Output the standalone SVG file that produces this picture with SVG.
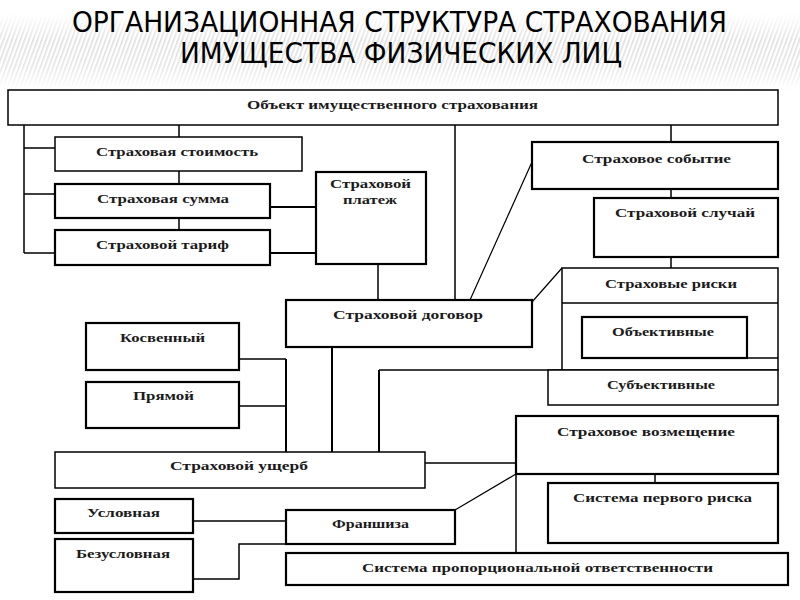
<svg xmlns="http://www.w3.org/2000/svg" width="800" height="600" viewBox="0 0 800 600">
<defs>
<style>
.b{fill:#fff;stroke:#000;stroke-width:1.5}
.k{fill:#fff;stroke:#000;stroke-width:2.2}
.c{fill:none;stroke:#000;stroke-width:1.5}
.t{font-family:"Liberation Serif","DejaVu Serif",serif;font-size:12px;font-weight:bold;fill:#1b1b1b;text-anchor:start}
.h{font-family:"DejaVu Sans Condensed","DejaVu Sans","Liberation Sans Narrow",sans-serif;font-size:28px;fill:#000;text-anchor:start}
</style>
<pattern id="st" width="4" height="8" patternUnits="userSpaceOnUse" patternTransform="rotate(20)">
<rect width="4" height="8" fill="#fff"/>
<rect width="1.6" height="8" fill="#d6d6d6"/>
</pattern>
<linearGradient id="fv" x1="0" y1="0" x2="0" y2="1">
<stop offset="0" stop-color="#fff" stop-opacity="0"/>
<stop offset="0.35" stop-color="#fff" stop-opacity="1"/>
<stop offset="0.7" stop-color="#fff" stop-opacity="0.8"/>
<stop offset="1" stop-color="#fff" stop-opacity="0"/>
</linearGradient>
<mask id="m"><rect x="0" y="14" width="800" height="76" fill="url(#fv)"/></mask>
</defs>
<rect width="800" height="600" fill="#fff"/>
<rect x="0" y="14" width="800" height="76" fill="url(#st)" mask="url(#m)" opacity="0.8"/>
<g id="title">
<text class="h" x="72" y="32" textLength="655" lengthAdjust="spacingAndGlyphs">ОРГАНИЗАЦИОННАЯ СТРУКТУРА СТРАХОВАНИЯ</text>
<text class="h" x="180" y="63" textLength="442" lengthAdjust="spacingAndGlyphs">ИМУЩЕСТВА ФИЗИЧЕСКИХ ЛИЦ</text>
</g>
<g id="connectors">
<path class="c" d="M24 125V253M24 148H55M24 194H55M24 253H55"/>
<path class="c" d="M179 125V137M179 171V184M179 218V230"/>
<path class="c" d="M270 207H316M270 253H316" style="stroke-width:2"/>
<path class="c" d="M378 264V300M455 125V300"/>
<path class="c" d="M671 125V142M671 189V198M671 257V268"/>
<path class="c" d="M532 162L470 300M532 302L562 268" style="stroke-width:1.2"/>
<path class="c" d="M239 359H286M239 406H286"/>
<path class="c" d="M286 359V452M332 347V452M379 452V370" style="stroke-width:2"/>
<path class="c" d="M379 370H562"/>
<path class="c" d="M425 463H516M516 474V553"/>
<path class="c" d="M455 510L516 474" style="stroke-width:1.2"/>
<path class="c" d="M655 474V483"/>
<path class="c" d="M193 521H286M193 579H239V544H286"/>
</g>
<g id="n-obj"><rect class="b" x="8" y="90" width="770" height="35"/><text class="t" x="247" y="109" textLength="291" lengthAdjust="spacingAndGlyphs">Объект имущественного страхования</text></g>
<g id="n-stoim"><rect class="b" x="55" y="137" width="247" height="34"/><text class="t" x="96" y="156" textLength="162" lengthAdjust="spacingAndGlyphs">Страховая стоимость</text></g>
<g id="n-summa"><rect class="k" x="55" y="184" width="215" height="34"/><text class="t" x="97" y="203" textLength="132" lengthAdjust="spacingAndGlyphs">Страховая сумма</text></g>
<g id="n-tarif"><rect class="k" x="55" y="230" width="215" height="35"/><text class="t" x="96" y="249" textLength="133" lengthAdjust="spacingAndGlyphs">Страховой тариф</text></g>
<g id="n-platej"><rect class="k" x="316" y="172" width="110" height="92"/><text class="t" x="330" y="188" textLength="81" lengthAdjust="spacingAndGlyphs">Страховой</text><text class="t" x="343" y="204" textLength="54" lengthAdjust="spacingAndGlyphs">платеж</text></g>
<g id="n-sobyt"><rect class="k" x="532" y="142" width="246" height="47"/><text class="t" x="582" y="163" textLength="149" lengthAdjust="spacingAndGlyphs">Страховое событие</text></g>
<g id="n-sluchai"><rect class="k" x="594" y="198" width="184" height="59"/><text class="t" x="615" y="217" textLength="140" lengthAdjust="spacingAndGlyphs">Страховой случай</text></g>
<g id="n-dogovor"><rect class="k" x="286" y="300" width="246" height="47"/><text class="t" x="333" y="319" textLength="150" lengthAdjust="spacingAndGlyphs">Страховой договор</text></g>
<g id="n-riski"><rect class="b" x="562" y="268" width="216" height="102"/><path class="c" d="M562 303H778M747 358H778"/><text class="t" x="605" y="288" textLength="132" lengthAdjust="spacingAndGlyphs">Страховые риски</text></g>
<g id="n-objekt"><rect class="k" x="582" y="317" width="165" height="41"/><text class="t" x="612" y="336" textLength="102" lengthAdjust="spacingAndGlyphs">Объективные</text></g>
<g id="n-subj"><rect class="b" x="548" y="370" width="230" height="35"/><text class="t" x="607" y="389" textLength="108" lengthAdjust="spacingAndGlyphs">Субъективные</text></g>
<g id="n-kosv"><rect class="k" x="86" y="323" width="153" height="47"/><text class="t" x="120" y="342" textLength="85" lengthAdjust="spacingAndGlyphs">Косвенный</text></g>
<g id="n-pryam"><rect class="k" x="86" y="382" width="153" height="46"/><text class="t" x="133" y="400" textLength="61" lengthAdjust="spacingAndGlyphs">Прямой</text></g>
<g id="n-vozm"><rect class="k" x="516" y="416" width="262" height="58"/><text class="t" x="557" y="436" textLength="178" lengthAdjust="spacingAndGlyphs">Страховое возмещение</text></g>
<g id="n-usherb"><rect class="b" x="55" y="452" width="370" height="36"/><text class="t" x="170" y="470" textLength="138" lengthAdjust="spacingAndGlyphs">Страховой ущерб</text></g>
<g id="n-uslov"><rect class="k" x="55" y="499" width="138" height="34"/><text class="t" x="87" y="517" textLength="73" lengthAdjust="spacingAndGlyphs">Условная</text></g>
<g id="n-bezusl"><rect class="k" x="55" y="539" width="138" height="53"/><text class="t" x="76" y="558" textLength="94" lengthAdjust="spacingAndGlyphs">Безусловная</text></g>
<g id="n-fransh"><rect class="k" x="286" y="510" width="169" height="34"/><text class="t" x="332" y="528" textLength="77" lengthAdjust="spacingAndGlyphs">Франшиза</text></g>
<g id="n-perv"><rect class="k" x="548" y="483" width="230" height="60"/><text class="t" x="573" y="502" textLength="179" lengthAdjust="spacingAndGlyphs">Система первого риска</text></g>
<g id="n-propor"><rect class="k" x="286" y="553" width="502" height="32"/><text class="t" x="362" y="572" textLength="351" lengthAdjust="spacingAndGlyphs">Система пропорциональной ответственности</text></g>
</svg>
